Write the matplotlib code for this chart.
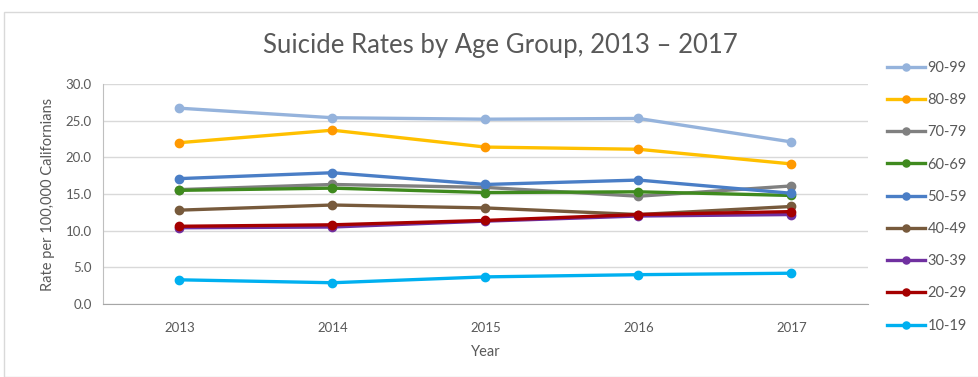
import matplotlib
matplotlib.use("Agg")
import matplotlib.pyplot as plt
from matplotlib.patches import Rectangle

plt.rcParams['font.family'] = ['Lato', 'DejaVu Sans']

years = ["2013", "2014", "2015", "2016", "2017"]
groups = ["90-99", "80-89", "70-79", "60-69", "50-59", "40-49", "30-39", "20-29", "10-19"]
rates = {
    "90-99": [26.7, 25.4, 25.2, 25.3, 22.1],
    "80-89": [22.0, 23.7, 21.4, 21.1, 19.1],
    "70-79": [15.6, 16.3, 15.9, 14.7, 16.1],
    "60-69": [15.5, 15.8, 15.2, 15.3, 14.8],
    "50-59": [17.1, 17.9, 16.3, 16.9, 15.1],
    "40-49": [12.8, 13.5, 13.1, 12.2, 13.3],
    "30-39": [10.4, 10.5, 11.3, 12.0, 12.2],
    "20-29": [10.6, 10.8, 11.4, 12.2, 12.6],
    "10-19": [3.3, 2.9, 3.7, 4.0, 4.2],
}
line_colors = {
    "90-99": "#95B3DC", "80-89": "#FFC000", "70-79": "#808080",
    "60-69": "#3F8A1E", "50-59": "#4A7EC6", "40-49": "#775A3C",
    "30-39": "#7030A0", "20-29": "#A50000", "10-19": "#00B0F0",
}
marker_colors = dict(line_colors)
marker_colors["80-89"] = "#FF9900"

fig = plt.figure(figsize=(9.79, 3.77), dpi=100)
fig.patches.append(Rectangle((4 / 979, 0), 1, 1 - 12 / 377, transform=fig.transFigure,
                             fill=False, edgecolor="#D9D9D9", linewidth=1))
ax = fig.add_axes([0.1052, 0.1936, 0.7814, 0.5836])

x = range(len(years))
for g in groups:
    ax.plot(x, rates[g], color=line_colors[g], linewidth=2.4, marker="o", markersize=6,
            markerfacecolor=marker_colors[g], markeredgecolor=marker_colors[g], label=g)

ax.set_xlim(-0.5, len(years) - 0.5)
ax.set_ylim(0, 30)
ax.set_xticks(list(x))
ax.set_xticklabels(years)
ax.set_yticks([0, 5, 10, 15, 20, 25, 30])
ax.set_yticklabels([f"{v:.1f}" for v in [0, 5, 10, 15, 20, 25, 30]])
ax.tick_params(length=0, labelsize=9.5, colors="#595959", pad=8)
ax.tick_params(axis="x", pad=13)
ax.grid(axis="y", color="#D9D9D9", linewidth=1)
ax.set_axisbelow(True)
for s in ["top", "right"]:
    ax.spines[s].set_visible(False)
ax.spines["bottom"].set_color("#A6A6A6")
ax.spines["left"].set_color("#BFBFBF")

ax.set_xlabel("Year", fontsize=10.5, color="#595959", labelpad=8)
ax.set_ylabel("Rate per 100,000 Californians", fontsize=10.5, color="#595959", labelpad=8)
fig.text(0.511, 0.88, "Suicide Rates by Age Group, 2013 \u2013 2017", ha="center", va="center",
         fontsize=18.5, color="#595959")

leg = ax.legend(loc="upper left", bbox_to_anchor=(1.008, 1.165), frameon=False,
                fontsize=10.5, labelspacing=1.25, handlelength=2.6, handletextpad=0.15,
                markerscale=0.85)
for t in leg.get_texts():
    t.set_color("#595959")

fig.savefig("out.png", dpi=100)
